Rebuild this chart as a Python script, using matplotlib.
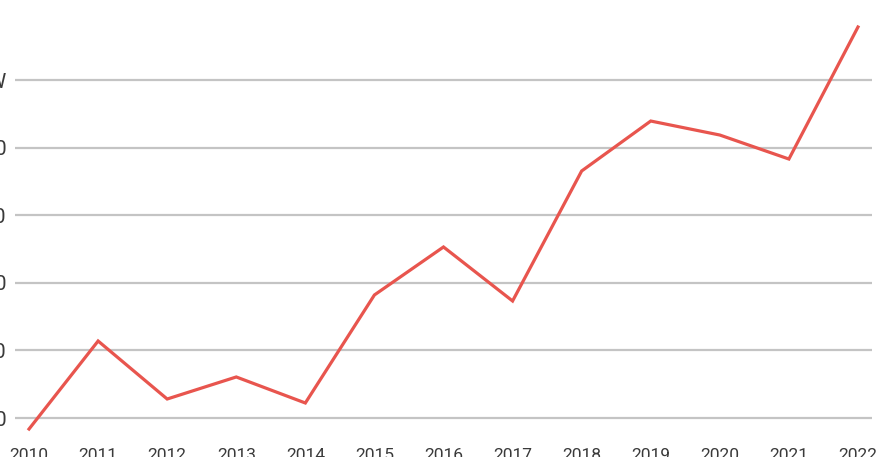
import matplotlib
matplotlib.use("Agg")
import matplotlib.pyplot as plt

# data
years = [2010, 2011, 2012, 2013, 2014, 2015, 2016, 2017, 2018, 2019, 2020, 2021, 2022]
values = [4837, 6139, 5281, 5607, 5222, 6820, 7530, 6731, 8654, 9393, 9186, 8831, 10784]
y_ticks = [5000, 6000, 7000, 8000, 9000, 10000]
y_labels = ["5000", "6000", "7000", "8000", "9000", "1W"]

plt.rcParams['font.family'] = ['Roboto', 'DejaVu Sans']

W, H = 886, 457
fig = plt.figure(figsize=(W / 100, H / 100), dpi=100)
ax = fig.add_axes([15 / W, (H - 440) / H, (872 - 15) / W, (440 - 10) / H])

ax.plot(years, values, color='#e8554e', linewidth=2.3, solid_joinstyle='miter', zorder=3)

ax.set_xlim(2009.797, 2022.203)
ax.set_ylim(4674.6, 11035.5)
ax.set_xticks(years)
ax.set_xticklabels([str(y) for y in years])
ax.set_yticks(y_ticks)
ax.set_yticklabels(y_labels)

ax.grid(axis='y', color='#c4c4c4', linewidth=1.6)
ax.set_axisbelow(True)
for s in ax.spines.values():
    s.set_visible(False)
ax.tick_params(axis='both', length=0, colors='#3a3a3a')
ax.tick_params(axis='x', labelsize=12.5, pad=6)
ax.tick_params(axis='y', labelsize=15, pad=6)

fig.savefig('out.png', dpi=100)
